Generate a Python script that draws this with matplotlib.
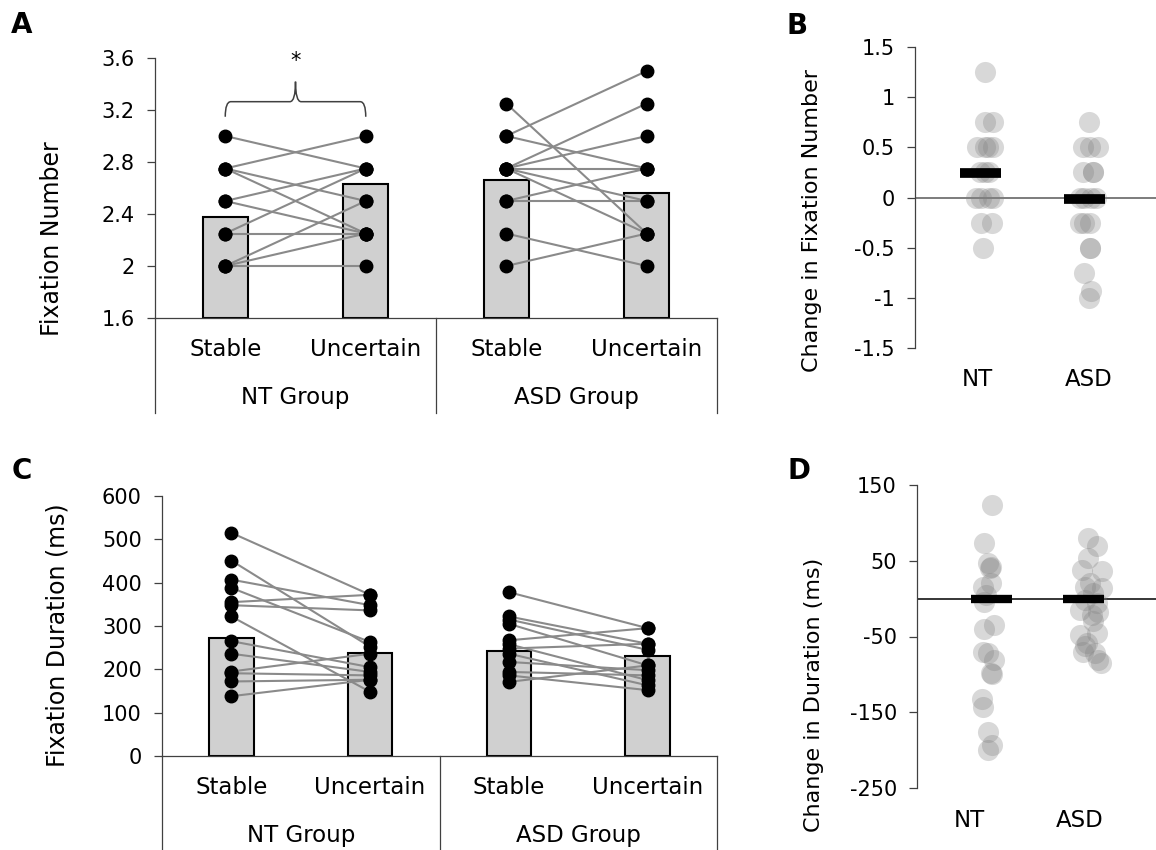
import numpy as np
import matplotlib.pyplot as plt
from matplotlib.path import Path
from matplotlib.patches import PathPatch

plt.rcParams['font.family'] = 'DejaVu Sans'
plt.rcParams['axes.unicode_minus'] = False

# ---- data ----
conditions = ['Stable', 'Uncertain', 'Stable', 'Uncertain']
groups = ['NT Group', 'ASD Group']
change_groups = ['NT', 'ASD']

# A: fixation number, one entry per participant (stable -> uncertain)
nt_num_stable = [3.0, 2.75, 2.75, 2.75, 2.5, 2.5, 2.25, 2.25, 2.0, 2.0, 2.0]
nt_num_uncertain = [2.75, 3.0, 2.5, 2.25, 2.75, 2.25, 2.75, 2.25, 2.5, 2.25, 2.0]
asd_num_stable = [3.25, 3.0, 3.0, 2.75, 2.75, 2.75, 2.75, 2.75, 2.5, 2.5, 2.25, 2.0]
asd_num_uncertain = [2.25, 3.5, 2.75, 3.25, 3.0, 2.75, 2.5, 2.25, 2.75, 2.5, 2.0, 2.25]
num_means = [2.38, 2.63, 2.66, 2.565]
num_ticks = [1.6, 2.0, 2.4, 2.8, 3.2, 3.6]
num_ticklabels = ['1.6', '2', '2.4', '2.8', '3.2', '3.6']

# C: fixation duration (ms)
nt_dur_stable = [515, 451, 407, 388, 355, 348, 322, 265, 236, 195, 191, 172, 138]
nt_dur_uncertain = [372, 252, 348, 263, 372, 336, 148, 205, 194, 236, 186, 176, 176]
asd_dur_stable = [378, 322, 315, 305, 267, 258, 248, 236, 217, 194, 186, 171]
asd_dur_uncertain = [295, 259, 245, 209, 295, 175, 259, 163, 198, 186, 152, 209]
dur_means = [272, 237, 242, 231]
dur_ticks = [0, 100, 200, 300, 400, 500, 600]

# B: change in fixation number (value, horizontal jitter)
nt_num_change = [1.25, 0.75, 0.75, 0.5, 0.5, 0.5, 0.5, 0.25, 0.25, 0.25,
                 0, 0, 0, 0, -0.25, -0.25, -0.5]
nt_num_jitter = [0.07, 0.07, 0.14, 0.0, 0.07, 0.14, 0.1, 0.03, 0.11, 0.07,
                 -0.01, 0.04, 0.11, 0.14, 0.04, 0.13, 0.05]
asd_num_change = [0.75, 0.5, 0.5, 0.5, 0.25, 0.25, 0.25, 0, 0, 0, 0,
                  -0.25, -0.25, -0.25, -0.5, -0.5, -0.75, -0.93, -1.0]
asd_num_jitter = [0.0, -0.05, 0.01, 0.08, -0.05, 0.04, 0.04, -0.08, -0.04, 0.02, 0.06,
                  -0.08, -0.04, 0.01, 0.01, 0.01, -0.04, 0.02, 0.0]
num_change_means = [0.24, -0.01]
num_change_offsets = [0.03, -0.04]
num_change_ticks = [-1.5, -1, -0.5, 0, 0.5, 1, 1.5]
num_change_ticklabels = ['-1.5', '-1', '-0.5', '0', '0.5', '1', '1.5']

# D: change in duration (ms)
nt_dur_change = [124, 74, 47, 42, 40, 20, 16, 5, -4, -35, -40, -70, -72, -81,
                 -98, -100, -132, -143, -176, -193, -200]
nt_dur_jitter = [0.21, 0.14, 0.17, 0.2, 0.19, 0.2, 0.13, 0.15, 0.14, 0.23, 0.14,
                 0.13, 0.17, 0.23, 0.2, 0.21, 0.12, 0.13, 0.17, 0.21, 0.17]
asd_dur_change = [80, 69, 53, 38, 36, 20, 16, 14, 7, -2, -6, -15, -17, -22, -30,
                  -45, -48, -59, -63, -70, -72, -81, -85]
asd_dur_jitter = [0.075, 0.156, 0.075, 0.02, 0.195, 0.09, 0.045, 0.195, 0.12, 0.045,
                  0.15, 0.0, 0.165, 0.105, 0.12, 0.15, 0.0, 0.066, 0.045, 0.03,
                  0.135, 0.165, 0.186]
dur_change_means = [-1, 0]
dur_change_offsets = [0.2, 0.03]
dur_change_ticks = [-250, -150, -50, 50, 150]

AX_COL = '#404040'
W, H = 1156, 850
fig = plt.figure(figsize=(W / 100, H / 100), dpi=100)


def add_axes_px(left, top, right, bottom):
    return fig.add_axes([left / W, 1 - bottom / H, (right - left) / W, (bottom - top) / H])


def style_left_axis(ax):
    for s in ['top', 'right', 'bottom']:
        ax.spines[s].set_visible(False)
    ax.spines['left'].set_color(AX_COL)
    ax.spines['left'].set_linewidth(0.9)
    ax.tick_params(axis='y', direction='out', length=6, width=0.9, color=AX_COL,
                   pad=8.5, labelsize=15)
    ax.tick_params(axis='x', length=0)


def paired_panel(ax, pairs, means, ticks, ticklabels):
    x = np.arange(len(conditions))
    base = ticks[0]
    ax.bar(x, np.array(means) - base, bottom=base, width=0.32, color='#d0d0d0',
           edgecolor='black', linewidth=1.5, zorder=1)
    for g, (before, after) in enumerate(pairs):
        x0, x1 = 2 * g, 2 * g + 1
        for b, a in zip(before, after):
            ax.plot([x0, x1], [b, a], color='#8a8a8a', lw=1.5, zorder=2)
        ax.plot([x0] * len(before), before, 'o', color='black', ms=9, zorder=3)
        ax.plot([x1] * len(after), after, 'o', color='black', ms=9, zorder=3)
    ax.set_xlim(-0.5, 3.5)
    ax.set_ylim(ticks[0], ticks[-1])
    ax.set_yticks(ticks)
    ax.set_yticklabels(ticklabels)
    ax.set_xticks([])
    style_left_axis(ax)
    ax.spines['bottom'].set_visible(True)
    ax.spines['bottom'].set_color(AX_COL)
    ax.spines['bottom'].set_linewidth(0.9)
    tr = ax.get_xaxis_transform()
    for xv in [-0.5, 1.5, 3.5]:
        ax.plot([xv, xv], [0, -0.365], transform=tr, clip_on=False, color=AX_COL, lw=0.9)
    for xi, lab in enumerate(conditions):
        ax.text(xi, -0.123, lab, transform=tr, ha='center', va='center', fontsize=16.5)
    for gi, lab in enumerate(groups):
        ax.text(2 * gi + 0.5, -0.306, lab, transform=tr, ha='center', va='center', fontsize=16.5)


def change_panel(ax, series, means, offsets, ticks, ticklabels, zero_col, bar_lw):
    ax.axhline(0, color=zero_col, lw=1.1, zorder=1)
    for i, (vals, jit) in enumerate(series):
        ax.scatter(1 + i + np.array(jit), vals, s=230, color='#7f7f7f', alpha=0.3,
                   linewidths=0, zorder=2)
    for i, (m, off) in enumerate(zip(means, offsets)):
        c = 1 + i + off
        ax.plot([c - 0.185, c + 0.185], [m, m], color='black', lw=bar_lw,
                solid_capstyle='butt', zorder=3)
    ax.set_ylim(ticks[0], ticks[-1])
    ax.set_yticks(ticks)
    ax.set_yticklabels(ticklabels)
    ax.set_xticks([])
    style_left_axis(ax)
    tr = ax.get_xaxis_transform()
    for i, lab in enumerate(change_groups):
        ax.text(1 + i, -0.106, lab, transform=tr, ha='center', va='center', fontsize=16.5)


# ---- A ----
axA = add_axes_px(155, 58, 717, 318)
paired_panel(axA, [(nt_num_stable, nt_num_uncertain), (asd_num_stable, asd_num_uncertain)],
             num_means, num_ticks, num_ticklabels)
# significance brace between NT stable and NT uncertain
xl, xr = 0, 1
xm = (xl + xr) / 2
y_end, y_line, y_tip, r = 3.148, 3.264, 3.418, 0.04
verts = [(xl, y_end), (xl, y_line), (xl + r, y_line), (xm - r, y_line), (xm, y_line),
         (xm, y_tip), (xm, y_line), (xm + r, y_line), (xr - r, y_line), (xr, y_line), (xr, y_end)]
codes = [Path.MOVETO, Path.CURVE3, Path.CURVE3, Path.LINETO, Path.CURVE3, Path.CURVE3,
         Path.CURVE3, Path.CURVE3, Path.LINETO, Path.CURVE3, Path.CURVE3]
axA.add_patch(PathPatch(Path(verts, codes), facecolor='none', edgecolor='#404040',
                        lw=1.1, clip_on=False))
axA.text(xm, 3.58, '*', ha='center', va='center', fontsize=15, clip_on=False)

# ---- B ----
axB = add_axes_px(915, 47, 1156, 348)
axB.set_xlim(0.446, 2.6)
change_panel(axB, [(nt_num_change, nt_num_jitter), (asd_num_change, asd_num_jitter)],
             num_change_means, num_change_offsets, num_change_ticks, num_change_ticklabels,
             '#595959', 7)

# ---- C ----
axC = add_axes_px(162, 496, 717, 756)
paired_panel(axC, [(nt_dur_stable, nt_dur_uncertain), (asd_dur_stable, asd_dur_uncertain)],
             dur_means, dur_ticks, [str(t) for t in dur_ticks])

# ---- D ----
axD = add_axes_px(917, 485, 1156, 788)
axD.set_xlim(0.532, 2.685)
change_panel(axD, [(nt_dur_change, nt_dur_jitter), (asd_dur_change, asd_dur_jitter)],
             dur_change_means, dur_change_offsets, dur_change_ticks,
             [str(t) for t in dur_change_ticks], 'black', 6)

# axis titles and panel letters
fig.text(52 / W, 1 - 239 / H, 'Fixation Number', rotation=90, ha='center', va='center', fontsize=17)
fig.text(812 / W, 1 - 220 / H, 'Change in Fixation Number', rotation=90, ha='center', va='center', fontsize=16)
fig.text(58 / W, 1 - 635 / H, 'Fixation Duration (ms)', rotation=90, ha='center', va='center', fontsize=17)
fig.text(814 / W, 1 - 695 / H, 'Change in Duration (ms)', rotation=90, ha='center', va='center', fontsize=16)
for lab, xp, yp in [('A', 22, 25), ('B', 797, 26), ('C', 22, 471), ('D', 799, 471)]:
    fig.text(xp / W, 1 - yp / H, lab, ha='center', va='center', fontsize=20, fontweight='bold')

fig.savefig('out.png', dpi=100)
